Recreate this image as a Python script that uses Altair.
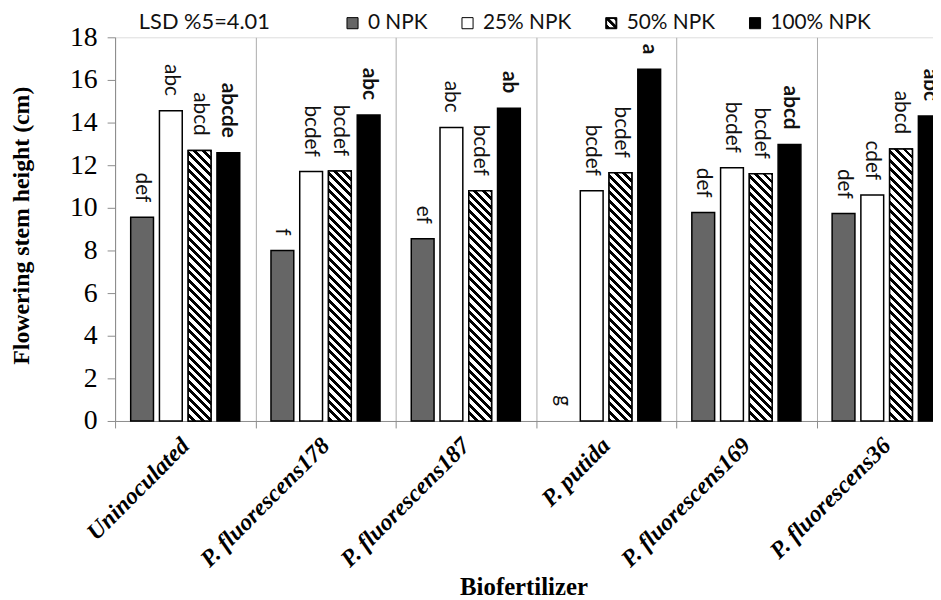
import altair as alt
import pandas as pd

# ---------------- data ----------------
groups = ["Uninoculated", "P. fluorescens178", "P. fluorescens187",
          "P. putida", "P. fluorescens169", "P. fluorescens36"]
levels = ["0 NPK", "25% NPK", "50% NPK", "100% NPK"]

npk0 = [9.56, 8.0, 8.55, 0.0, 9.78, 9.73]
npk25 = [14.55, 11.7, 13.77, 10.8, 11.88, 10.6]
npk50 = [12.69, 11.73, 10.8, 11.65, 11.6, 12.76]
npk100 = [12.58, 14.36, 14.67, 16.5, 12.97, 14.31]

let0 = ["def", "f", "ef", "g", "def", "def"]
let25 = ["abc", "bcdef", "abc", "bcdef", "bcdef", "cdef"]
let50 = ["abcd", "bcdef", "bcdef", "bcdef", "bcdef", "abcd"]
let100 = ["abcde", "abc", "ab", "a", "abcd", "abc"]

lsd_note = "LSD %5=4.01"
y_ticks = [0, 2, 4, 6, 8, 10, 12, 14, 16, 18]
y_title = "Flowering stem height (cm)"
x_title = "Biofertilizer"

rows = []
for lev, vals, lets in zip(levels, [npk0, npk25, npk50, npk100],
                           [let0, let25, let50, let100]):
    for g, v, l in zip(groups, vals, lets):
        rows.append({"group": g, "level": lev, "value": v, "letter": l})
df = pd.DataFrame(rows)

# ---------------- layout / style ----------------
PLOT_W = 825          # visible plot width (reference is cropped at the right)
RANGE_W = 849         # full width of the six groups
PLOT_H = 387
Y_MAX = 18
P_IN, P_OUT = 0.207, 0.543
band = RANGE_W / len(groups)
step = band / (len(levels) - P_IN + 2 * P_OUT)
bar_w = step * (1 - P_IN)

# base fills (the 50% bars are covered by their hatch layer)
fills = ["#666666", "#ffffff", "#000000", "#000000"]
outline = ["#000000", "#000000", "#000000", "#000000"]
AXIS_GREY = "#8c8c8c"


def hatch(w, h, period=8.5, black=4.0, phase=2.0):
    """Diagonal '\\' hatch as an objectBoundingBox linear gradient."""
    total = h + w
    t = (h + w) / (h * h + w * w)
    x2 = 1 - w * t
    y2 = h * t
    if abs(x2) < 1e-4:
        x2 = 1e-4
    stops = []
    f = -w - phase
    while f < h:
        for seg_len, col in ((black, "#000000"), (period - black, "#ffffff")):
            s = (f + w) / total
            e = (f + seg_len + w) / total
            f += seg_len
            if e <= 0 or s >= 1:
                continue
            s = max(0.0, s)
            e = min(1.0, e)
            stops.append({"offset": round(s, 5), "color": col})
            stops.append({"offset": round(e, 5), "color": col})
    return {"gradient": "linear", "x1": 1, "y1": 0,
            "x2": round(x2, 5), "y2": round(y2, 5), "stops": stops}


def clip(poly, a, b, c):
    """Keep the part of polygon where a*x + b*y <= c."""
    out = []
    n = len(poly)
    for i in range(n):
        p, q = poly[i], poly[(i + 1) % n]
        fp = a * p[0] + b * p[1] - c
        fq = a * q[0] + b * q[1] - c
        if fp <= 0:
            out.append(p)
        if fp * fq < 0:
            tt = fp / (fp - fq)
            out.append((p[0] + tt * (q[0] - p[0]), p[1] + tt * (q[1] - p[1])))
    return out


def hatch_symbol(inner=0.84, period=1.5, black=0.55):
    """Custom legend symbol: thin square ring + '\\' stripes, in [-1,1] space."""
    parts = ["M-1,-1H1V1H-1Z",
             f"M-{inner},-{inner}V{inner}H{inner}V-{inner}Z"]
    sq = [(-inner, -inner), (inner, -inner), (inner, inner), (-inner, inner)]
    c0 = -2 * inner - 0.2
    while c0 < 2 * inner:
        poly = clip(sq, -1, 1, c0 + black)     # y - x <= c0 + black
        poly = clip(poly, 1, -1, -c0)          # y - x >= c0
        if len(poly) >= 3:
            parts.append("M" + "L".join(f"{x:.3f},{y:.3f}" for x, y in poly) + "Z")
        c0 += period
    return "".join(parts)


legend = alt.Legend(
    orient="none", legendX=24, legendY=-25, direction="horizontal",
    title=lsd_note, titleOrient="left", titleFont="Lato", titleFontSize=22,
    titleFontWeight="normal", titleColor="#111111", titlePadding=72,
    labelFont="Lato", labelFontSize=21, labelColor="#111111", labelOffset=5,
    symbolSize=125, symbolStrokeColor="black", symbolType="square",
    symbolStrokeWidth=1, symbolOpacity=1, columnPadding=29, padding=0,
    gridAlign="each",
)

x_enc = alt.X(
    "group:N",
    scale=alt.Scale(domain=groups, range=[0, RANGE_W], paddingInner=0, paddingOuter=0),
    axis=alt.Axis(
        title=x_title, titleFont="Liberation Serif", titleFontSize=25,
        titleFontWeight="bold", titleColor="black", titleX=412, titleY=175,
        titleBaseline="alphabetic", titleAlign="center",
        labelAngle=315, labelAlign="right", labelBaseline="middle",
        labelFont="Liberation Serif", labelFontStyle="italic", labelFontWeight="bold",
        labelFontSize=24, labelColor="black", labelPadding=14, labelLimit=400,
        tickBand="extent", ticks=True, tickSize=7, tickColor=AXIS_GREY,
        domainColor=AXIS_GREY, grid=True, gridColor="#ababab", gridWidth=1,
    ),
)
xo_enc = alt.XOffset("level:N",
                     scale=alt.Scale(domain=levels, paddingInner=P_IN, paddingOuter=P_OUT))
y_enc = alt.Y(
    "value:Q",
    scale=alt.Scale(domain=[0, Y_MAX], nice=False, zero=True),
    axis=alt.Axis(
        values=y_ticks, grid=False, tickSize=8, tickColor=AXIS_GREY,
        domainColor=AXIS_GREY, labelFont="Liberation Serif", labelFontSize=28,
        labelColor="black", labelPadding=10,
        title=y_title, titleFont="Liberation Serif", titleFontSize=24,
        titleFontWeight="bold", titleColor="black", titleAngle=270,
        titleX=-94, titleY=PLOT_H / 2 - 4, titleAlign="center", titleBaseline="middle",
    ),
)

color_enc = alt.Color("level:N", scale=alt.Scale(domain=levels, range=fills), legend=legend)

base = alt.Chart(df).encode(x=x_enc, xOffset=xo_enc, y=y_enc)

bars = base.mark_bar(stroke="black", strokeWidth=1.5).encode(
    color=color_enc
).transform_filter("datum.value > 0")

hatch_layers = []
for g, v in zip(groups, npk50):
    hatch_layers.append(
        base.mark_bar(fill=hatch(bar_w, v * PLOT_H / Y_MAX), stroke="black", strokeWidth=1.5)
        .transform_filter(f"datum.group === '{g}' && datum.level === '50% NPK'")
    )

txt_norm = base.mark_text(angle=90, align="right", baseline="middle", dx=-15,
                          font="Lato", fontSize=21, color="#111111").encode(
    text="letter:N").transform_filter("datum.level !== '100% NPK'")
txt_bold = base.mark_text(angle=90, align="right", baseline="middle", dx=-15,
                          font="Lato", fontSize=21, fontWeight="bold", color="#111111").encode(
    text="letter:N").transform_filter("datum.level === '100% NPK'")

# legend-only layer (no marks drawn): outlined square swatches, hatched one for 50% NPK
legend_shape = ["square", "square", hatch_symbol(), "square"]
legend_layer = alt.Chart(df).mark_point(
    filled=True, size=125, opacity=1, strokeWidth=1
).encode(
    color=color_enc,
    shape=alt.Shape("level:N", scale=alt.Scale(domain=levels, range=legend_shape), legend=legend),
    stroke=alt.Stroke("level:N", scale=alt.Scale(domain=levels, range=outline), legend=legend),
).transform_filter("false")

chart = alt.layer(bars, *hatch_layers, txt_norm, txt_bold, legend_layer).properties(
    width=PLOT_W, height=PLOT_H,
    autosize=alt.AutoSizeParams(type="none"),
    padding={"left": 108, "top": 27, "right": 0, "bottom": 178},
).configure_view(stroke=None).configure(background="white")

chart.save("out.html", embed_options={"renderer": "svg", "actions": False})
